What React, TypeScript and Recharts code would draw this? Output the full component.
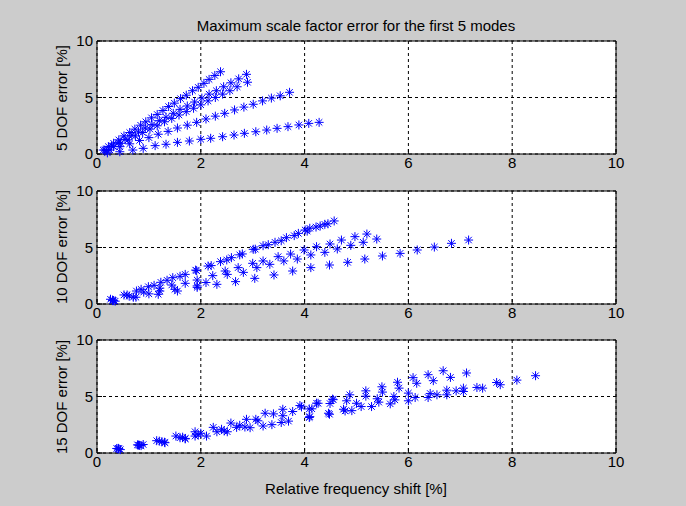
import React from 'react';
import { ScatterChart, Scatter, XAxis, YAxis, CartesianGrid, ReferenceArea } from 'recharts';

const xTicks = [0, 2, 4, 6, 8, 10];
const yTicks = [0, 5, 10];

// 5 DOF model, one array per mode: [frequency shift, error]
const dof5Mode1 = [[0.12, 0.35], [0.22, 0.65], [0.32, 0.95], [0.42, 1.25], [0.52, 1.6], [0.63, 1.9], [0.73, 2.2], [0.84, 2.55], [0.94, 2.85], [1.05, 3.2], [1.16, 3.5], [1.27, 3.85], [1.38, 4.2], [1.49, 4.5], [1.61, 4.9], [1.72, 5.2], [1.84, 5.6], [1.95, 5.9], [2.06, 6.25], [2.16, 6.6], [2.27, 6.95], [2.38, 7.28]];
const dof5Mode2 = [[0.15, 0.35], [0.28, 0.7], [0.41, 1.0], [0.54, 1.3], [0.67, 1.65], [0.8, 1.95], [0.93, 2.3], [1.06, 2.6], [1.2, 2.95], [1.33, 3.25], [1.47, 3.6], [1.6, 3.95], [1.74, 4.25], [1.88, 4.6], [2.02, 4.95], [2.16, 5.3], [2.3, 5.6], [2.44, 5.95], [2.58, 6.3], [2.73, 6.65], [2.88, 7.05]];
const dof5Mode3 = [[0.18, 0.3], [0.32, 0.65], [0.46, 0.95], [0.6, 1.25], [0.74, 1.6], [0.88, 1.9], [1.02, 2.2], [1.16, 2.5], [1.3, 2.85], [1.44, 3.15], [1.58, 3.45], [1.72, 3.75], [1.86, 4.05], [2.0, 4.35], [2.14, 4.7], [2.28, 5.0], [2.42, 5.3], [2.56, 5.6], [2.7, 5.95], [2.9, 6.35]];
const dof5Mode4 = [[0.25, 0.35], [0.44, 0.65], [0.63, 0.9], [0.82, 1.2], [1.0, 1.45], [1.18, 1.75], [1.37, 2.0], [1.55, 2.3], [1.74, 2.55], [1.92, 2.8], [2.1, 3.1], [2.28, 3.35], [2.46, 3.6], [2.65, 3.9], [2.83, 4.15], [3.01, 4.4], [3.19, 4.7], [3.36, 4.95], [3.53, 5.15], [3.71, 5.46]];
const dof5Mode5 = [[0.2, 0.1], [0.44, 0.2], [0.69, 0.35], [0.89, 0.5], [1.12, 0.74], [1.33, 0.86], [1.55, 1.03], [1.78, 1.15], [2.0, 1.3], [2.19, 1.39], [2.42, 1.53], [2.64, 1.68], [2.84, 1.83], [3.06, 1.97], [3.27, 2.12], [3.47, 2.27], [3.68, 2.42], [3.89, 2.57], [4.08, 2.71], [4.28, 2.8]];

// 10 DOF model
const dof10Mode1 = [[0.26, 0.42], [0.52, 0.8], [0.76, 1.15], [0.99, 1.53], [1.23, 1.92], [1.46, 2.33], [1.7, 2.62], [1.92, 2.95], [2.14, 3.36], [2.38, 3.75], [2.59, 4.1], [2.8, 4.43], [3.01, 4.84], [3.2, 5.16], [3.43, 5.46], [3.65, 5.87], [3.88, 6.25], [4.01, 6.55], [4.1, 6.7], [4.22, 6.81], [4.39, 7.05], [4.57, 7.35]];
const dof10Mode2 = [[0.3, 0.35], [0.58, 0.8], [0.85, 1.3], [1.1, 1.65], [1.35, 2.1], [1.6, 2.45], [1.9, 3.0], [2.2, 3.4], [2.5, 3.9], [2.75, 4.35], [3.05, 4.85], [3.3, 5.25], [3.55, 5.6], [3.8, 6.05], [4.05, 6.45], [4.3, 6.9], [4.45, 7.1]];
const dof10Mode3 = [[0.32, 0.3], [0.62, 0.7], [0.9, 1.05], [1.21, 1.4], [1.44, 1.68], [1.7, 1.83], [1.93, 2.12], [2.23, 2.51], [2.47, 2.92], [2.72, 3.22], [3.0, 3.6], [3.2, 3.81], [3.49, 4.19], [3.73, 4.42], [3.99, 4.78], [4.23, 5.07], [4.49, 5.31], [4.71, 5.66], [4.97, 5.96], [5.2, 6.19]];
const dof10Mode4 = [[0.35, 0.25], [0.7, 0.6], [1.0, 0.9], [1.21, 1.15], [1.5, 1.3], [1.93, 1.6], [2.1, 1.9], [2.51, 2.62], [2.82, 2.8], [3.08, 3.22], [3.33, 3.51], [3.6, 3.81], [3.86, 3.98], [4.12, 4.34], [4.39, 4.57], [4.63, 4.87], [4.89, 5.19], [5.13, 5.46], [5.39, 5.75]];
const dof10Mode5 = [[0.3, 0.3], [0.75, 0.6], [1.18, 0.86], [1.55, 1.15], [1.93, 1.47], [2.31, 1.74], [2.67, 1.98], [3.04, 2.27], [3.41, 2.57], [3.77, 2.92], [4.12, 3.22], [4.48, 3.45], [4.83, 3.69], [5.16, 3.98], [5.5, 4.25], [5.84, 4.48], [6.17, 4.78], [6.5, 5.04], [6.83, 5.37], [7.16, 5.66]];

// 15 DOF model
const dof15Mode1 = [[0.41, 0.41], [0.89, 0.75], [1.15, 1.09], [1.52, 1.5], [1.89, 1.88], [2.24, 2.27], [2.58, 2.65], [2.88, 2.98], [3.24, 3.52], [3.58, 3.87], [3.91, 4.2], [4.26, 4.4], [4.55, 4.72], [4.87, 5.15], [5.18, 5.5], [5.49, 5.86], [5.79, 6.26], [6.09, 6.67], [6.38, 6.93], [6.67, 7.28], [7.12, 7.08]];
const dof15Mode2 = [[0.41, 0.35], [0.8, 0.7], [1.31, 0.91], [1.7, 1.29], [1.89, 1.5], [2.31, 1.88], [2.69, 2.27], [3.06, 2.98], [3.4, 3.46], [3.77, 3.67], [4.09, 3.9], [4.49, 4.38], [4.81, 4.62], [5.18, 5.03], [5.5, 5.39], [5.82, 5.74], [6.16, 6.17], [6.48, 6.4], [6.81, 6.69]];
const dof15Mode3 = [[0.45, 0.3], [0.85, 0.65], [1.3, 0.95], [1.7, 1.25], [2.11, 1.5], [2.51, 1.88], [2.95, 2.24], [3.37, 2.51], [3.69, 2.82], [4.09, 3.14], [4.48, 3.43], [4.78, 3.72], [5.09, 4.11], [5.43, 4.5], [5.74, 4.7], [6.13, 4.91], [6.42, 5.27], [6.74, 5.56], [7.06, 5.74], [7.43, 5.74], [7.77, 6.04], [8.09, 6.45], [8.45, 6.84]];
const dof15Mode4 = [[0.38, 0.4], [0.78, 0.72], [1.2, 1.05], [1.6, 1.35], [1.95, 1.6], [2.45, 1.95], [2.85, 2.3], [3.2, 2.39], [3.55, 2.7], [4.1, 3.22], [4.46, 3.52], [4.91, 3.75], [5.29, 4.11], [5.65, 4.35], [6.0, 4.62], [6.38, 4.91], [6.74, 5.15], [7.06, 5.44], [7.32, 5.8], [7.7, 6.24]];
const dof15Mode5 = [[0.42, 0.38], [0.82, 0.68], [1.25, 1.0], [1.65, 1.4], [2.0, 1.75], [2.4, 2.1], [2.75, 2.45], [3.1, 2.85], [3.58, 3.3], [3.94, 4.08], [4.14, 3.91], [4.23, 4.41], [4.54, 4.77], [4.75, 3.87], [5.0, 4.4], [5.4, 4.8], [5.72, 5.0], [6.0, 5.3], [6.55, 5.15], [6.92, 5.5]];

const FONT = '"Liberation Sans", Arial, Helvetica, sans-serif';
const FONT_SIZE = 15;

const toPoints = (arr: number[][]) => arr.map(([x, y]) => ({ x, y }));

// matlab style '*' marker
const Asterisk = (props: any) => {
  const { cx, cy } = props;
  if (cx == null || cy == null) return null;
  const r = 4.5;
  const d = 3.2;
  return (
    <g stroke="#0000ff" strokeWidth={1}>
      <line x1={cx - r} y1={cy} x2={cx + r} y2={cy} />
      <line x1={cx} y1={cy - r} x2={cx} y2={cy + r} />
      <line x1={cx - d} y1={cy - d} x2={cx + d} y2={cy + d} />
      <line x1={cx - d} y1={cy + d} x2={cx + d} y2={cy - d} />
    </g>
  );
};

interface PanelProps {
  top: number;
  modes: number[][][];
}

const Panel: React.FC<PanelProps> = ({ top, modes }) => (
  <div style={{ position: 'absolute', left: 0, top }}>
    <ScatterChart width={686} height={176} margin={{ top: 41, right: 70, bottom: 0, left: 67 }}>
      <CartesianGrid stroke="#000" strokeDasharray="3 3" fill="#fff" />
      {/* negative tickSize -> ticks point into the axes like matlab */}
      <XAxis
        type="number"
        dataKey="x"
        domain={[0, 10]}
        ticks={xTicks}
        interval={0}
        height={22}
        axisLine={false}
        tickLine={{ stroke: '#000' }}
        tickSize={-5}
        tickMargin={8}
        tick={{ fill: '#000', fontSize: FONT_SIZE, fontFamily: FONT }}
      />
      <YAxis
        type="number"
        dataKey="y"
        domain={[0, 10]}
        ticks={yTicks}
        interval={0}
        width={30}
        axisLine={false}
        tickLine={{ stroke: '#000' }}
        tickSize={-5}
        tickMargin={9}
        tick={{ fill: '#000', fontSize: FONT_SIZE, fontFamily: FONT }}
      />
      <ReferenceArea x1={0} x2={10} y1={0} y2={10} fill="none" stroke="#000" strokeWidth={1} fillOpacity={0} />
      {modes.map((m, i) => (
        <Scatter key={i} data={toPoints(m)} shape={<Asterisk />} isAnimationActive={false} />
      ))}
    </ScatterChart>
  </div>
);

const App: React.FC = () => {
  const textStyle = { fontFamily: FONT, fontSize: FONT_SIZE, fill: '#000' };
  return (
    <div style={{ position: 'fixed', left: 0, top: 0, width: 686, height: 506, background: '#cccccc', overflow: 'hidden' }}>
      <Panel top={0} modes={[dof5Mode1, dof5Mode2, dof5Mode3, dof5Mode4, dof5Mode5]} />
      <Panel top={150} modes={[dof10Mode1, dof10Mode2, dof10Mode3, dof10Mode4, dof10Mode5]} />
      <Panel top={299} modes={[dof15Mode1, dof15Mode2, dof15Mode3, dof15Mode4, dof15Mode5]} />
      <svg width={686} height={506} style={{ position: 'absolute', left: 0, top: 0, pointerEvents: 'none' }}>
        <text x={356} y={31} textAnchor="middle" style={textStyle}>Maximum scale factor error for the first 5 modes</text>
        <text x={356} y={494} textAnchor="middle" style={textStyle}>Relative frequency shift [%]</text>
        <text transform="translate(67,98) rotate(-90)" textAnchor="middle" style={textStyle}>5 DOF error [%]</text>
        <text transform="translate(67,247) rotate(-90)" textAnchor="middle" style={textStyle}>10 DOF error [%]</text>
        <text transform="translate(67,397) rotate(-90)" textAnchor="middle" style={textStyle}>15 DOF error [%]</text>
      </svg>
    </div>
  );
};

export default App;
